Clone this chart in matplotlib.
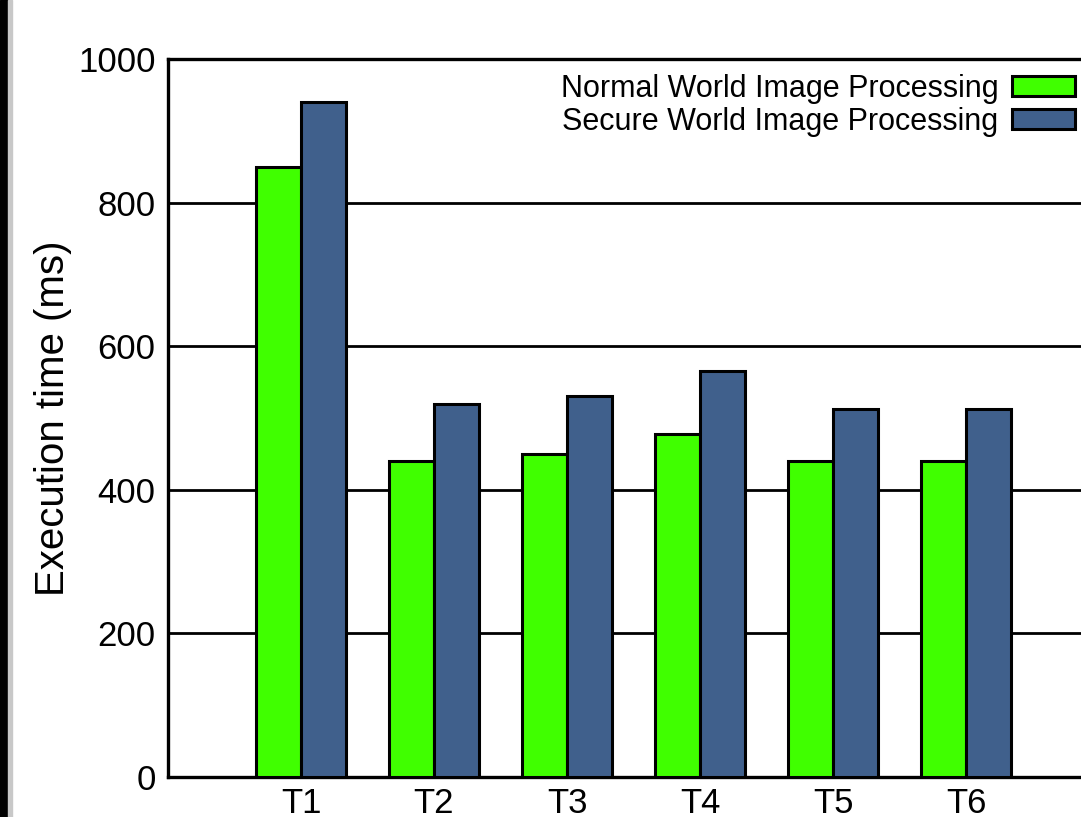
import numpy as np
import matplotlib.pyplot as plt
from matplotlib.patches import Rectangle

# execution times per test case (ms)
tests = ['T1', 'T2', 'T3', 'T4', 'T5', 'T6']
normal_world = [850, 440, 450, 478, 440, 440]
secure_world = [940, 520, 530, 565, 512, 512]

green = '#40ff00'
blue = '#40608c'

plt.rcParams['font.family'] = ['Liberation Sans', 'DejaVu Sans']

fig = plt.figure(figsize=(10.81, 8.17), dpi=100)
# axes runs off the right edge of the figure on purpose
ax = fig.add_axes([168/1081, 40/817, 931/1081, 718/817])

x = np.arange(1, len(tests)+1)
w = 0.34
ax.bar(x - w/2, normal_world, w, color=green, edgecolor='black', linewidth=2.2,
       label='Normal World Image Processing', zorder=3)
ax.bar(x + w/2, secure_world, w, color=blue, edgecolor='black', linewidth=2.2,
       label='Secure World Image Processing', zorder=3)

ax.set_xlim(0, 7)
ax.set_ylim(0, 1000)
ax.set_yticks(range(0, 1001, 200))
ax.set_xticks(x)
ax.set_xticklabels(tests)
ax.tick_params(axis='both', length=0, labelsize=25)
ax.tick_params(axis='y', pad=9)
ax.tick_params(axis='x', pad=7)
ax.yaxis.grid(True, color='black', linewidth=2.0)
ax.set_axisbelow(True)
for s in ax.spines.values():
    s.set_linewidth(2.4)

ax.set_ylabel('Execution time (ms)', fontsize=29, labelpad=4.5)

leg = ax.legend(loc='upper right', frameon=False, fontsize=22, markerfirst=False,
                handlelength=2.05, handleheight=0.62, handletextpad=0.45,
                labelspacing=0.1, borderpad=0.3, borderaxespad=0.1,
                bbox_to_anchor=(0.987, 0.996))
for t in leg.get_texts():
    t.set_ha('right')

# dark strip down the left edge
fig.patches.append(Rectangle((0, 0), 8/1081, 1, transform=fig.transFigure,
                             color='black', zorder=10))
fig.patches.append(Rectangle((8/1081, 0), 4/1081, 1, transform=fig.transFigure,
                             color='#c8c8c8', zorder=10))

fig.savefig('out.png', dpi=100)
